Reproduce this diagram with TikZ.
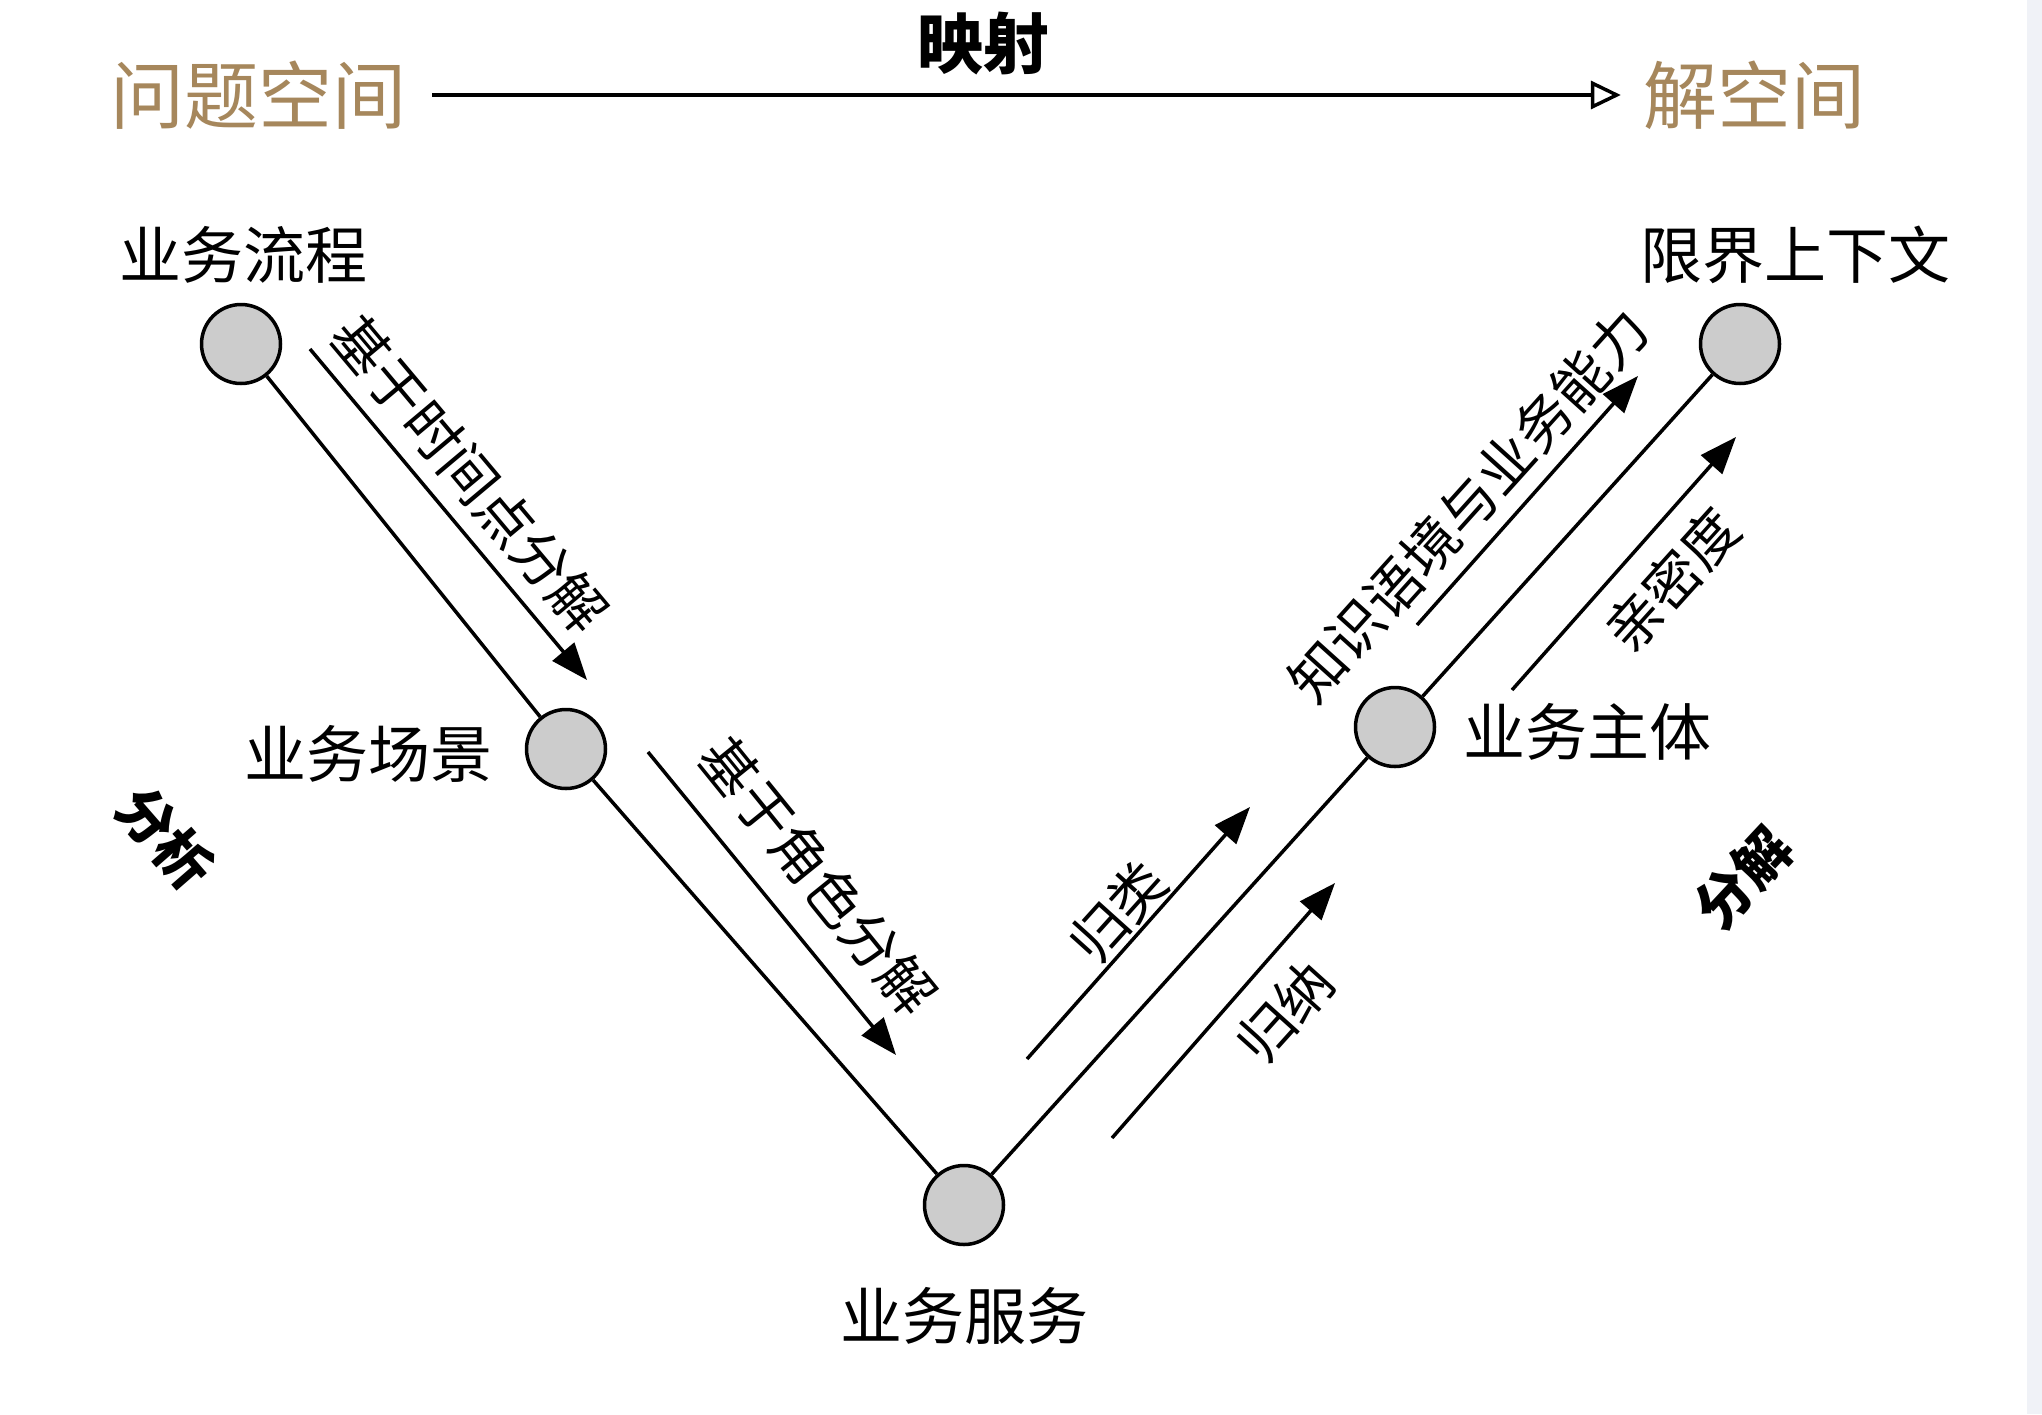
\documentclass[tikz,border=0pt]{standalone}
\usepackage{fontspec}
\setmainfont{Noto Sans CJK SC}
\usetikzlibrary{arrows.meta}
\definecolor{titlebrown}{RGB}{166,135,92}
\definecolor{stripc}{RGB}{240,242,247}
\definecolor{nodegray}{RGB}{204,204,204}
\begin{document}
\begin{tikzpicture}[x=1pt,y=-1pt,
  dot/.style={circle,draw=black,fill=nodegray,line width=3.5pt,minimum size=79pt,inner sep=0pt},
  nodelabel/.style={inner sep=0pt,font=\fontsize{62}{70}\selectfont},
  titlelabel/.style={inner sep=0pt,text=titlebrown,font=\fontsize{74}{82}\selectfont},
  maplabel/.style={inner sep=0pt,font=\fontsize{66}{74}\selectfont\bfseries},
  edgelabel/.style={inner sep=0pt,font=\fontsize{56}{64}\selectfont},
  phaselabel/.style={inner sep=0pt,font=\fontsize{56}{64}\selectfont\bfseries},
  mainline/.style={line width=3.5pt},
  flow/.style={line width=3.5pt,-{Triangle[length=37pt,width=28pt]}},
  maparrow/.style={line width=3.5pt,-{Triangle[open,length=30pt,width=28pt,fill=white]}}]
\useasboundingbox (0,0) rectangle (2042,1414);
\fill[white] (0,0) rectangle (2042,1414);
\fill[stripc] (2027,0) rectangle (2042,1414);

% titles
\node[titlelabel] (tproblem) at (258,95) {问题空间};
\node[titlelabel] (tsolution) at (1754,95) {解空间};
\node[maplabel] (tmap) at (983,44) {映射};
\draw[maparrow,shorten <=26pt,shorten >=22pt] (tproblem.east) -- (tsolution.west);

% circles
\node[dot] (flowproc) at (241,344) {};
\node[dot] (scene) at (566,749) {};
\node[dot] (service) at (964,1205) {};
\node[dot] (subject) at (1395,727) {};
\node[dot] (context) at (1740,344) {};

% node labels
\node[nodelabel] (lflow) at (243,255) {业务流程};
\node[nodelabel] (lscene) at (368,754) {业务场景};
\node[nodelabel] (lservice) at (964,1316) {业务服务};
\node[nodelabel] (lsubject) at (1587,732) {业务主体};
\node[nodelabel] (lcontext) at (1795,255) {限界上下文};

% main lines
\draw[mainline] (flowproc) -- (scene);
\draw[mainline] (scene) -- (service);
\draw[mainline] (service) -- (subject);
\draw[mainline] (subject) -- (context);

% side arrows
\coordinate (a1s) at (310,349);  \coordinate (a1e) at (587,680);
\coordinate (a2s) at (648,752);  \coordinate (a2e) at (896,1055);
\coordinate (a3s) at (1027,1059); \coordinate (a3e) at (1250,807);
\coordinate (a4s) at (1112,1138); \coordinate (a4e) at (1335,883);
\coordinate (a5s) at (1417,625); \coordinate (a5e) at (1638,376);
\coordinate (a6s) at (1512,690); \coordinate (a6e) at (1736,437);
\draw[flow] (a1s) -- (a1e);
\draw[flow] (a2s) -- (a2e);
\draw[flow] (a3s) -- (a3e);
\draw[flow] (a4s) -- (a4e);
\draw[flow] (a5s) -- (a5e);
\draw[flow] (a6s) -- (a6e);

% arrow labels
\node[edgelabel,rotate=-50] (e1) at (470,474) {基于时间点分解};
\node[edgelabel,rotate=-51] (e2) at (818,876) {基于角色分解};
\node[edgelabel,rotate=48] (e3) at (1118,912) {归类};
\node[edgelabel,rotate=48] (e4) at (1285,1012) {归纳};
\node[edgelabel,rotate=48] (e5) at (1468,505) {知识语境与业务能力};
\node[edgelabel,rotate=48] (e6) at (1672,580) {亲密度};

% phase labels
\node[phaselabel,rotate=-49] (panalysis) at (165,838) {分析};
\node[phaselabel,rotate=47] (pdecomp) at (1743,878) {分解};
\end{tikzpicture}
\end{document}
